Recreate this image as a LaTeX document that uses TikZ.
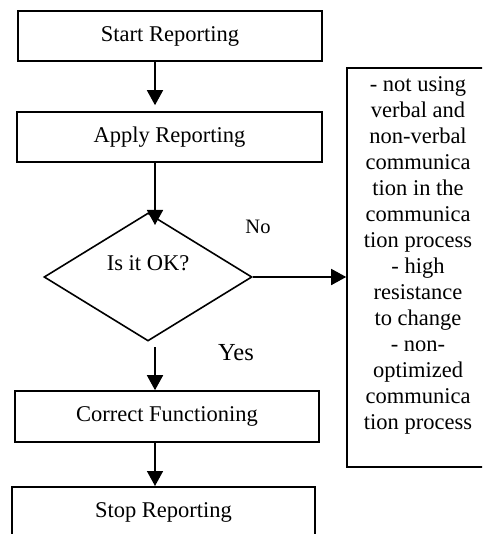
\documentclass[tikz,border=0pt]{standalone}
\usepackage{fontspec}
\setmainfont{Liberation Serif}
\usetikzlibrary{shapes.geometric,arrows.meta}
\begin{document}
\begin{tikzpicture}[x=1pt,y=-1pt,
  box/.style={draw,line width=1.6pt,inner sep=0pt,font=\fontsize{22.5}{27}\selectfont},
  txt/.style={inner sep=0pt,font=\fontsize{22.5}{27}\selectfont},
  conn/.style={line width=1.6pt,-{Triangle[length=15pt,width=16pt]}}
]
\useasboundingbox (0,0) rectangle (482,534);
\clip (0,0) rectangle (482,534);
\node[box,minimum width=304pt,minimum height=50pt] (start) at (170,36) {Start Reporting};
\node[box,minimum width=305pt,minimum height=50pt] (apply) at (169.5,137) {Apply Reporting};
\node[draw,diamond,line width=1.6pt,inner sep=0pt,minimum width=208pt,minimum height=128pt] (dia) at (148,277) {};
\node[txt] (q) at (148,263) {Is it OK?};
\node[box,minimum width=304pt,minimum height=51pt] (correct) at (167,416.5) {Correct Functioning};
\node[box,anchor=north,minimum width=303pt,text height=31pt,text depth=30pt] (stop) at (163.5,486) {Stop Reporting};
\node[draw,line width=1.6pt,minimum width=142pt,minimum height=399pt,inner sep=0pt] (side) at (418,267.5) {};
\node[inner sep=0pt,align=center,font=\fontsize{22.5}{26}\selectfont] (sidetext) at (418,255)
 {- not using\\verbal and\\non-verbal\\communica\\tion in the\\communica\\tion process\\- high\\resistance\\to change\\- non-\\optimized\\communica\\tion process};
\node[inner sep=0pt,font=\fontsize{20.5}{24}\selectfont] (no) at (258,227) {No};
\node[inner sep=0pt,font=\fontsize{24.5}{29}\selectfont] (yes) at (236,353) {Yes};
\coordinate (a1) at (155,61);
\coordinate (a2) at (155,225);
\coordinate (a3) at (155,347);
\draw[conn,shorten >=6pt] (start.south -| a1) -- (apply.north -| a1);
\draw[conn] (apply.south -| a2) -- (a2);
\draw[conn] (dia.east) -- (dia.east -| side.west);
\draw[conn] (a3) -- (a3 |- correct.north);
\draw[conn] (correct.south -| a3) -- (stop.north -| a3);
\end{tikzpicture}
\end{document}
